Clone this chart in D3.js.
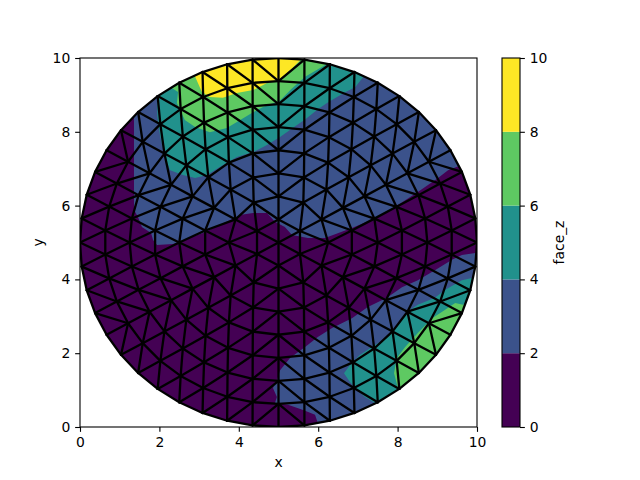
<!DOCTYPE html>
<html>
<head>
<meta charset="utf-8">
<script src="https://cdn.jsdelivr.net/npm/d3@7"></script>
<style>
html,body{margin:0;padding:0;background:#fff}
svg{display:block}
text{font-family:"DejaVu Sans",sans-serif;font-size:13.9px;fill:#000}
</style>
</head>
<body>
<svg id="chart" width="640" height="480"></svg>
<script>
// Mesh nodes, ring by ring, in data units (x, y)
const ring0 = [[5,5]];
const ring1 = [[5,5.625],[5.541,5.313],[5.541,4.688],[5,4.375],[4.459,4.688],[4.459,5.313]];
const ring2 = [[5,6.25],[5.625,6.083],[6.083,5.625],[6.25,5],[6.083,4.375],[5.625,3.917],[5,3.75],[4.375,3.917],[3.917,4.375],[3.75,5],[3.917,5.625],[4.375,6.083]];
const ring3 = [[5,6.875],[5.641,6.762],[6.205,6.436],[6.624,5.938],[6.847,5.326],[6.847,4.674],[6.624,4.062],[6.205,3.564],[5.641,3.238],[5,3.125],[4.359,3.238],[3.795,3.564],[3.376,4.062],[3.153,4.674],[3.153,5.326],[3.376,5.938],[3.795,6.436],[4.359,6.762]];
const ring4 = [[5,7.5],[5.647,7.415],[6.25,7.165],[6.768,6.768],[7.165,6.25],[7.415,5.647],[7.5,5],[7.415,4.353],[7.165,3.75],[6.768,3.232],[6.25,2.835],[5.647,2.585],[5,2.5],[4.353,2.585],[3.75,2.835],[3.232,3.232],[2.835,3.75],[2.585,4.353],[2.5,5],[2.585,5.647],[2.835,6.25],[3.232,6.768],[3.75,7.165],[4.353,7.415]];
const ring5 = [[5,8.125],[5.65,8.057],[6.271,7.855],[6.837,7.528],[7.322,7.091],[7.706,6.563],[7.972,5.966],[8.108,5.327],[8.108,4.673],[7.972,4.034],[7.706,3.437],[7.322,2.909],[6.837,2.472],[6.271,2.145],[5.65,1.943],[5,1.875],[4.35,1.943],[3.729,2.145],[3.163,2.472],[2.678,2.909],[2.294,3.437],[2.028,4.034],[1.892,4.673],[1.892,5.327],[2.028,5.966],[2.294,6.563],[2.678,7.091],[3.163,7.528],[3.729,7.855],[4.35,8.057]];
const ring6 = [[5,8.75],[5.651,8.693],[6.283,8.524],[6.875,8.248],[7.41,7.873],[7.873,7.41],[8.248,6.875],[8.524,6.283],[8.693,5.651],[8.75,5],[8.693,4.349],[8.524,3.717],[8.248,3.125],[7.873,2.59],[7.41,2.127],[6.875,1.752],[6.283,1.476],[5.651,1.307],[5,1.25],[4.349,1.307],[3.717,1.476],[3.125,1.752],[2.59,2.127],[2.127,2.59],[1.752,3.125],[1.476,3.717],[1.307,4.349],[1.25,5],[1.307,5.651],[1.476,6.283],[1.752,6.875],[2.127,7.41],[2.59,7.873],[3.125,8.248],[3.717,8.524],[4.349,8.693]];
const ring7 = [[5,9.375],[5.652,9.326],[6.289,9.181],[6.898,8.942],[7.465,8.615],[7.976,8.207],[8.42,7.728],[8.789,7.188],[9.073,6.598],[9.265,5.973],[9.363,5.327],[9.363,4.673],[9.265,4.027],[9.073,3.402],[8.789,2.812],[8.42,2.272],[7.976,1.793],[7.465,1.385],[6.898,1.058],[6.289,.819],[5.652,.674],[5,.625],[4.348,.674],[3.711,.819],[3.102,1.058],[2.535,1.385],[2.024,1.793],[1.58,2.272],[1.211,2.812],[.927,3.402],[.735,4.027],[.637,4.673],[.637,5.327],[.735,5.973],[.927,6.598],[1.211,7.188],[1.58,7.728],[2.024,8.207],[2.535,8.615],[3.102,8.942],[3.711,9.181],[4.348,9.326]];
const ring8 = [[5,10],[5.653,9.957],[6.294,9.83],[6.913,9.619],[7.5,9.33],[8.044,8.967],[8.536,8.536],[8.967,8.044],[9.33,7.5],[9.619,6.913],[9.83,6.294],[9.957,5.653],[10,5],[9.957,4.347],[9.83,3.706],[9.619,3.087],[9.33,2.5],[8.967,1.956],[8.536,1.464],[8.044,1.033],[7.5,.67],[6.913,.381],[6.294,.17],[5.653,.043],[5,0],[4.347,.043],[3.706,.17],[3.087,.381],[2.5,.67],[1.956,1.033],[1.464,1.464],[1.033,1.956],[.67,2.5],[.381,3.087],[.17,3.706],[.043,4.347],[0,5],[.043,5.653],[.17,6.294],[.381,6.913],[.67,7.5],[1.033,8.044],[1.464,8.536],[1.956,8.967],[2.5,9.33],[3.087,9.619],[3.706,9.83],[4.347,9.957]];

// Filled contour regions (face_z bands), outlines in data units, clipped to the mesh
const bandBlueUpper = [[1.34,10.3],[10.33,10.3],[10.33,7.29],[9.5,7.05],[9.27,6.96],[9.02,6.75],[8.51,6.37],[7.93,5.96],[7.43,5.66],[6.85,5.39],[6.17,5.12],[5.74,5.12],[5.34,5.2],[5.16,5.42],[4.91,5.56],[4.71,5.8],[4.36,5.8],[4.06,5.75],[3.1,5.26],[2.47,5.01],[2.34,4.96],[1.94,4.93],[1.84,5.07],[1.79,5.26],[1.56,5.42],[1.46,5.69],[1.36,5.88],[1.36,8.24]];
const bandTealUpper = [[1.94,10.3],[1.94,9.02],[1.95,8.41],[2.02,7.87],[2.14,7.33],[2.27,6.96],[2.59,6.83],[2.9,6.75],[3.2,6.83],[3.53,7.05],[3.95,7.32],[4.36,7.45],[4.71,7.64],[5.04,7.86],[5.42,8.15],[5.67,8.33],[6,8.62],[6.25,8.8],[6.68,9.07],[6.93,9.21],[7.14,9.49],[7.3,9.67],[7.3,10.3]];
const bandGreenUpper = [[2.25,9.6],[2.31,9.19],[2.47,9.08],[2.44,8.78],[2.64,8.32],[2.9,8.13],[3.27,7.99],[3.7,8.1],[4.33,8.51],[4.61,8.67],[5.04,8.85],[5.33,9.17],[5.67,9.49],[6.21,9.83],[6.3,10.3],[2.25,10.3]];
const bandYellow = [[2.8,10.3],[2.9,9.49],[2.97,9.32],[3.07,9.08],[3.27,8.94],[3.6,8.92],[3.95,9.05],[4.36,9.13],[4.71,9.32],[5.04,9.44],[5.33,9.71],[5.54,9.93],[5.6,10.3]];
const bandBlueLower = [[10.33,4.74],[10,4.72],[9.62,4.66],[9.37,4.53],[8.94,4.25],[8.51,3.98],[8.11,3.79],[7.73,3.5],[7.25,3.25],[6.85,2.95],[6.35,2.68],[5.99,2.44],[5.67,2.17],[5.29,1.87],[5.04,1.54],[4.96,1.27],[4.86,1.06],[4.96,.81],[4.91,.65],[5.24,.6],[5.62,.46],[5.92,.33],[5.99,.11],[5.99,-.3],[10.33,-.3]];
const bandTealLower = [[10.33,4.04],[9.87,4.04],[9.62,3.98],[9.19,3.71],[8.94,3.5],[8.51,3.31],[8.24,3.12],[8.01,2.82],[7.76,2.44],[7.43,2.22],[7.05,1.95],[6.8,1.68],[6.65,1.46],[6.8,1.22],[6.98,1],[7.18,.81],[7.43,.65],[7.68,.2],[7.68,-.3],[10.33,-.3]];
const bandGreenLower = [[10.08,3.55],[9.65,3.31],[9.45,3.36],[9.19,3.17],[8.87,2.95],[8.51,2.55],[8.19,2.17],[7.98,1.87],[7.91,1.46],[8.01,1.06],[8.14,.73],[10.33,.5]];

const levels = [0,2,4,6,8,10];
const bandColors = ["#440154","#3b528b","#21918c","#5ec962","#fde725"];
const axisTicks = [0,2,4,6,8,10];
const colorbarTicks = [0,2,4,6,8,10];
const xLabel = "x", yLabel = "y", zLabel = "face_z";

const svg = d3.select("#chart");
const axLeft = 80, axRight = 477, axTop = 58, axBottom = 427;
const x = d3.scaleLinear().domain([0,10]).range([axLeft,axRight]);
const y = d3.scaleLinear().domain([0,10]).range([axBottom,axTop]);
const z = d3.scaleLinear().domain([0,10]).range([axBottom,axTop]);
const line = d3.line().x(d=>x(d[0])).y(d=>y(d[1])).curve(d3.curveLinearClosed);

const nodes = [...ring0,...ring1,...ring2,...ring3,...ring4,...ring5,...ring6,...ring7,...ring8];

const defs = svg.append("defs");
defs.append("clipPath").attr("id","mesh-clip").append("path").attr("d",line(ring8));
defs.append("clipPath").attr("id","axes-clip").append("rect")
  .attr("x",axLeft).attr("y",axTop).attr("width",axRight-axLeft).attr("height",axBottom-axTop);

const plot = svg.append("g").attr("clip-path","url(#axes-clip)");
const fills = plot.append("g").attr("clip-path","url(#mesh-clip)");
fills.append("path").attr("d",line(ring8)).attr("fill",bandColors[0]);
[
  [bandBlueUpper,1],[bandTealUpper,2],[bandGreenUpper,3],[bandYellow,4],
  [bandBlueLower,1],[bandTealLower,2],[bandGreenLower,3]
].forEach(([pts,i])=>{
  fills.append("path").attr("d",line(pts)).attr("fill",bandColors[i]);
});

// Triangular mesh edges
const delaunay = d3.Delaunay.from(nodes, d=>d[0], d=>d[1]);
const tri = delaunay.triangles;
const edgeSet = [];
for (let i=0;i<delaunay.halfedges.length;i++){
  const j = delaunay.halfedges[i];
  if (i<j || j<0){
    const a = nodes[tri[i]], b = nodes[tri[i%3===2 ? i-2 : i+1]];
    edgeSet.push([a,b]);
  }
}
plot.append("g").selectAll("line").data(edgeSet).join("line")
  .attr("x1",d=>x(d[0][0])).attr("y1",d=>y(d[0][1]))
  .attr("x2",d=>x(d[1][0])).attr("y2",d=>y(d[1][1]))
  .attr("stroke","#000").attr("stroke-width",2.3).attr("stroke-linecap","round");

// Axes
const xAxis = svg.append("g").attr("transform",`translate(0,${axBottom})`)
  .call(d3.axisBottom(x).tickValues(axisTicks).tickFormat(d3.format("d")).tickSize(4.86).tickPadding(4.9));
const yAxis = svg.append("g").attr("transform",`translate(${axLeft},0)`)
  .call(d3.axisLeft(y).tickValues(axisTicks).tickFormat(d3.format("d")).tickSize(4.86).tickPadding(4.9));
[xAxis,yAxis].forEach(a=>{
  a.select(".domain").remove();
  a.selectAll("line").attr("stroke","#000").attr("stroke-width",1.1);
  a.selectAll("text").style("font-family",'"DejaVu Sans"').style("font-size","13.9px");
});
svg.append("rect").attr("x",axLeft).attr("y",axTop).attr("width",axRight-axLeft).attr("height",axBottom-axTop)
  .attr("fill","none").attr("stroke","#000").attr("stroke-width",1.1);

svg.append("text").attr("x",(axLeft+axRight)/2).attr("y",467).attr("text-anchor","middle").text(xLabel);
svg.append("text").attr("transform",`translate(43,${(axTop+axBottom)/2}) rotate(-90)`).attr("text-anchor","middle").text(yLabel);

// Colorbar
const cbL = 502, cbR = 520;
svg.append("g").selectAll("rect").data(bandColors).join("rect")
  .attr("x",cbL).attr("width",cbR-cbL)
  .attr("y",(d,i)=>z(levels[i+1])).attr("height",(d,i)=>z(levels[i])-z(levels[i+1]))
  .attr("fill",d=>d);
const cAxis = svg.append("g").attr("transform",`translate(${cbR},0)`)
  .call(d3.axisRight(z).tickValues(colorbarTicks).tickFormat(d3.format("d")).tickSize(4.86).tickPadding(4.9));
cAxis.select(".domain").remove();
cAxis.selectAll("line").attr("stroke","#000").attr("stroke-width",1.1);
cAxis.selectAll("text").style("font-family",'"DejaVu Sans"').style("font-size","13.9px");
svg.append("rect").attr("x",cbL).attr("y",axTop).attr("width",cbR-cbL).attr("height",axBottom-axTop)
  .attr("fill","none").attr("stroke","#000").attr("stroke-width",1.1);
svg.append("text").attr("transform",`translate(564,${(axTop+axBottom)/2}) rotate(-90)`).attr("text-anchor","middle").text(zLabel);
</script>
</body>
</html>
